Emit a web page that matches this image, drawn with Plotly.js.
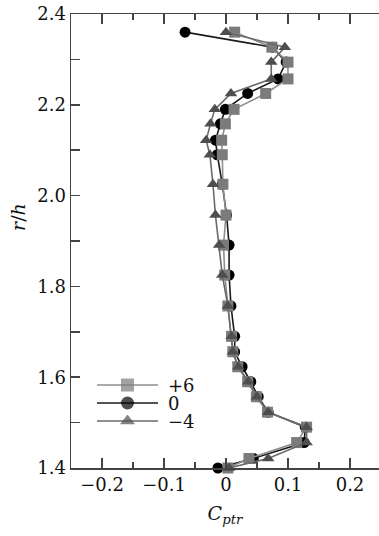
<!DOCTYPE html>
<html>
<head>
<meta charset="utf-8">
<script src="https://cdn.plot.ly/plotly-3.0.1.min.js"></script>
<style>
  html, body { margin: 0; padding: 0; background: #fff; }
  #chart { width: 379px; height: 536px; }
</style>
</head>
<body>
<div id="chart"></div>
<script>
// Radial stations r/h (shared by all three series)
const rh = [2.36, 2.327, 2.294, 2.257, 2.225, 2.19, 2.158, 2.122, 2.09, 2.025,
            1.957, 1.891, 1.825, 1.757, 1.69, 1.656, 1.623, 1.59, 1.557, 1.523,
            1.49, 1.456, 1.421, 1.40];

// Total pressure coefficient C_ptr for each setting
const cpPlus6 = [0.014, 0.074, 0.100, 0.100, 0.064, 0.013, -0.001, -0.007, -0.006, -0.005,
                 0.000, -0.004, -0.002, 0.003, 0.009, 0.011, 0.019, 0.035, 0.049, 0.067,
                 0.130, 0.114, 0.037, 0.003];
const cpZero  = [-0.066, 0.075, 0.097, 0.084, 0.035, -0.001, -0.009, -0.017, -0.014, -0.006,
                 0.001, 0.005, 0.005, 0.008, 0.014, 0.014, 0.026, 0.040, 0.052, 0.068,
                 0.128, 0.126, 0.044, -0.013];
const cpMinus4 = [0.000, 0.095, 0.073, 0.073, 0.008, -0.018, -0.025, -0.032, -0.026, -0.021,
                  -0.017, -0.011, -0.006, 0.003, 0.009, 0.011, 0.020, 0.036, 0.050, 0.068,
                  0.130, 0.130, 0.068, 0.005];

const seriesNames = ['+6', '0', '\u22124'];
const xTickVals = [-0.2, -0.1, 0, 0.1, 0.2];
const yTickVals = [1.4, 1.6, 1.8, 2.0, 2.2, 2.4];

const FONT = 'DejaVu Serif';

// style per series: [+6, 0, -4]
const styles = [
  { symbol: 'square',       color: '#7b7b7b', line: '#8e8e8e' },
  { symbol: 'circle',       color: '#000000', line: '#1a1a1a' },
  { symbol: 'triangle-up',  color: '#4e4e4e', line: '#6a6a6a' }
];
const seriesX = [cpPlus6, cpZero, cpMinus4];

// draw order: circles underneath, squares, triangles on top
const order = [1, 0, 2];
const traces = order.map(i => ({
  type: 'scatter',
  mode: 'lines+markers',
  x: seriesX[i],
  y: rh,
  name: seriesNames[i],
  cliponaxis: false,
  showlegend: false,
  line: { color: styles[i].line, width: 1.6 },
  marker: { symbol: styles[i].symbol, size: 11, color: styles[i].color,
            line: { width: 0 } }
}));

// Key drawn on an overlay axis measured in pixels from the page corner
const keyLineX0 = 97, keyLineX1 = 158, keyTextX = 166;
const keyRowY = [385, 403, 421];
seriesNames.forEach((name, i) => {
  const mid = (keyLineX0 + keyLineX1) / 2;
  traces.push({
    type: 'scatter',
    mode: 'lines+markers',
    xaxis: 'x2', yaxis: 'y2',
    x: [keyLineX0, mid, keyLineX1],
    y: [keyRowY[i], keyRowY[i], keyRowY[i]],
    showlegend: false,
    hoverinfo: 'skip',
    line: { color: styles[i].line, width: 1.6 },
    marker: { symbol: styles[i].symbol, size: [0, 13, 0], color: styles[i].color,
              line: { width: 0 } }
  });
});

const annotations = seriesNames.map((name, i) => ({
  xref: 'x2', yref: 'y2', x: keyTextX, y: keyRowY[i],
  xanchor: 'left', yanchor: 'middle', showarrow: false,
  text: name, font: { family: FONT, size: 18, color: '#111' }
}));
annotations.push({
  xref: 'paper', yref: 'paper', x: -0.172, y: 0.553,
  xanchor: 'center', yanchor: 'middle', showarrow: false, textangle: -90,
  text: '<i>r</i>/<i>h</i>', font: { family: FONT, size: 19, color: '#111' }
});

const axisCommon = {
  showgrid: false, zeroline: false, showline: true,
  linecolor: '#444', linewidth: 1.5,
  ticks: 'inside', tickcolor: '#444', tickwidth: 1.5,
  tickfont: { family: FONT, size: 18, color: '#111' }
};

const layout = {
  width: 379, height: 536,
  margin: { l: 71, r: 0, t: 14, b: 68 },
  paper_bgcolor: '#fff', plot_bgcolor: '#fff',
  font: { family: FONT },
  showlegend: false,
  xaxis: Object.assign({}, axisCommon, {
    range: [-0.25, 0.2468],
    tickvals: xTickVals, ticklen: 10, mirror: 'ticks',
    minor: { dtick: 0.05, tick0: 0, ticks: 'inside', ticklen: 6, tickcolor: '#444', tickwidth: 1.5 },
    title: { text: '<i>C</i><sub><i>ptr</i></sub>', font: { family: FONT, size: 19, color: '#111' }, standoff: 12 }
  }),
  yaxis: Object.assign({}, axisCommon, {
    range: [1.4, 2.4],
    tickvals: yTickVals, tickformat: '.1f', ticklen: 9,
    minor: { dtick: 0.1, tick0: 1.4, ticks: 'inside', ticklen: 9, tickcolor: '#444', tickwidth: 1.5 }
  }),
  xaxis2: { overlaying: 'x', range: [71, 379], visible: false, fixedrange: true },
  yaxis2: { overlaying: 'y', range: [468, 14], visible: false, fixedrange: true },
  annotations: annotations
};

Plotly.newPlot('chart', traces, layout, { staticPlot: true, displayModeBar: false });
</script>
</body>
</html>
